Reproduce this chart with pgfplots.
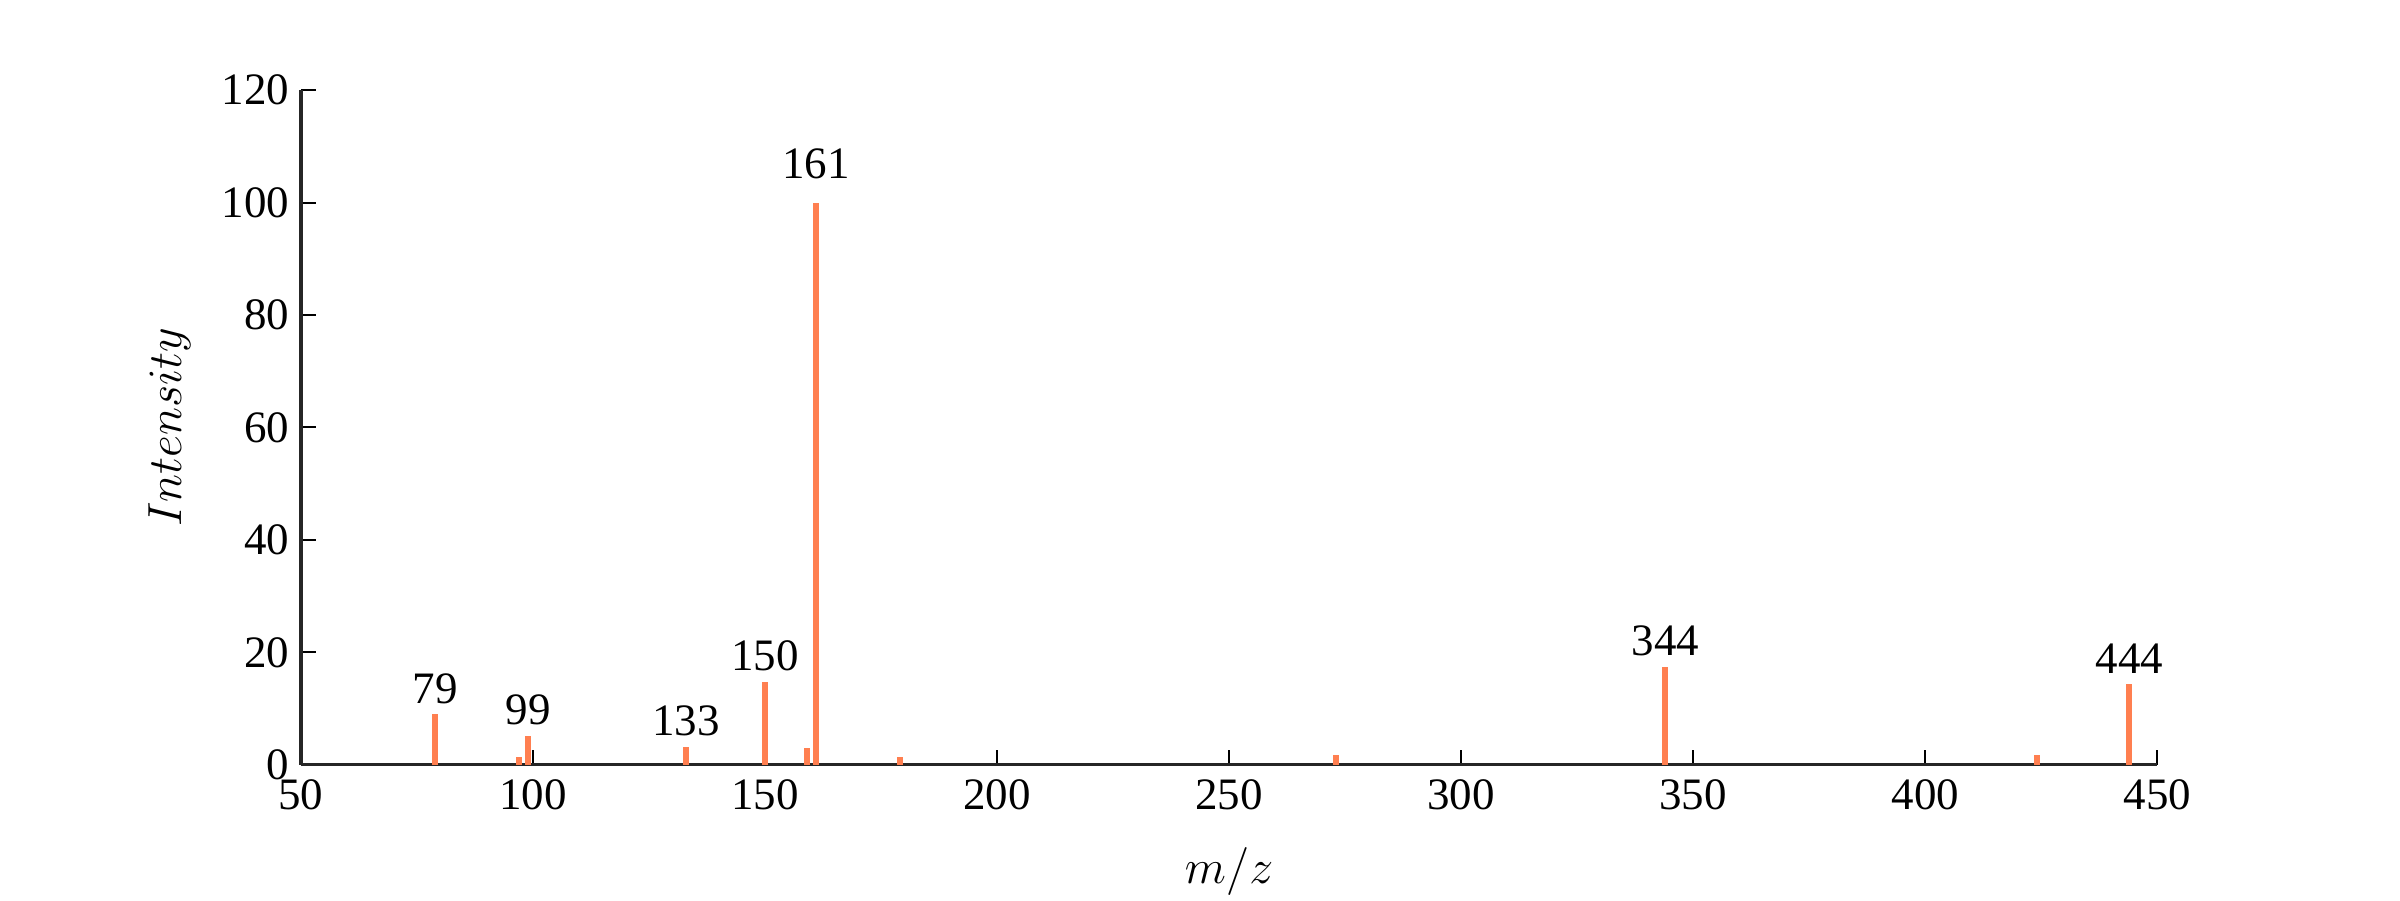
\documentclass[border=0pt]{standalone}
\usepackage{fontspec}
\setmainfont{Liberation Serif}
\usepackage{pgfplots}
\pgfplotsset{compat=1.18}
\definecolor{peak}{RGB}{255,127,80}
\definecolor{spine}{RGB}{38,38,38}
\begin{document}
\begin{tikzpicture}
\path[use as bounding box] (-90.34pt,-40.65pt) rectangle (630.27pt,229.6pt);
\begin{axis}[
  scale only axis, width=557.4pt, height=202.5pt,
  at={(0,0)}, anchor=south west,
  xmin=50, xmax=450, ymin=0, ymax=120,
  xtick={50,100,...,450}, ytick={0,20,...,120},
  axis x line*=bottom, axis y line*=left,
  axis line style={spine, line width=1pt},
  tick align=inside, major tick length=4.5pt,
  tick style={black, line width=0.6pt},
  /pgf/number format/assume math mode=true,
  ticklabel style={font=\fontsize{13.5}{15}\selectfont},
  xticklabel style={yshift=-1pt},
  xlabel={$m/z$}, ylabel={$Intensity$},
  label style={font=\fontsize{14}{16}\selectfont},
  xlabel style={yshift=-4.3pt},
  ylabel style={yshift=2.3pt},
  clip=false,
]
\addplot[ycomb, peak, line width=1.8pt] coordinates {
 (79,9.0) (97,1.4) (99,5.1) (133,3.2) (150,14.7) (159,3.0) (161,100)
 (179,1.3) (273,1.8) (344,17.4) (424,1.8) (444,14.3)
};
\addplot[draw=none, mark=none, point meta=x,
  nodes near coords={\pgfmathprintnumber{\pgfplotspointmeta}},
  nodes near coords style={font=\fontsize{13.5}{15}\selectfont, anchor=south, inner sep=3pt}]
 coordinates {
 (79,9.0) (99,5.1) (133,3.2) (150,14.7) (344,17.4) (444,14.3)
};
\addplot[draw=none, mark=none, point meta=x,
  nodes near coords={\pgfmathprintnumber{\pgfplotspointmeta}},
  nodes near coords style={font=\fontsize{13.5}{15}\selectfont, anchor=south, inner sep=3pt, yshift=4pt}]
 coordinates {
 (161,100)
};
\end{axis}
\end{tikzpicture}
\end{document}
